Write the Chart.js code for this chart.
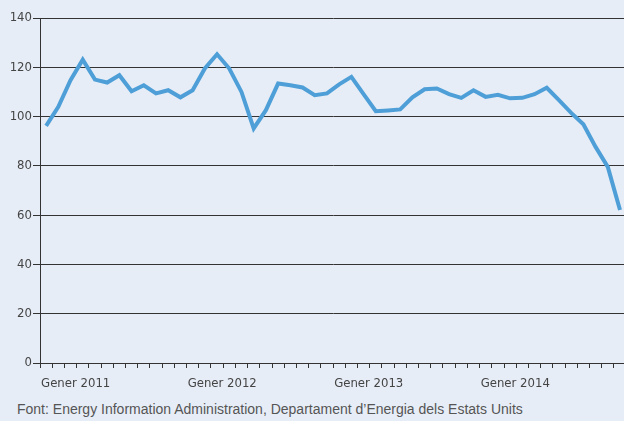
<!DOCTYPE html>
<html>
<head>
<meta charset="utf-8">
<script src="https://cdn.jsdelivr.net/npm/chart.js@4"></script>
<style>
  html, body { margin: 0; padding: 0; background: #e7edf7; overflow: hidden; }
  #wrap { position: absolute; left: 0; top: 0; width: 628px; height: 395px; }
  #source { position: absolute; left: 17px; top: 401px; font: 14px "Liberation Sans", Arial, sans-serif; color: #555; white-space: nowrap; }
</style>
</head>
<body>
<div id="wrap"><canvas id="chart"></canvas></div>
<div id="source">Font: Energy Information Administration, Departament d’Energia dels Estats Units</div>
<script>
// monthly values, gener 2011 .. desembre 2014
const years = [2011, 2012, 2013, 2014];
const months = [];
years.forEach(y => { for (let m = 1; m <= 12; m++) months.push(y + "-" + m); });

const values = [
    96.2, 104.0, 114.8, 123.1, 115.0, 113.8, 116.8, 110.3, 112.7, 109.4, 110.7, 107.8,
    110.7, 119.5, 125.3, 119.5, 110.0, 95.2, 102.6, 113.4, 112.7, 111.8, 108.7, 109.4,
    113.1, 116.1, 109.1, 102.2, 102.5, 102.9, 107.8, 111.1, 111.4, 109.1, 107.6, 110.7,
    108.0, 108.8, 107.4, 107.6, 109.1, 111.7, 106.7, 101.5, 96.9, 87.7, 79.6, 62.1
];
const yTicks = [0, 20, 40, 60, 80, 100, 120, 140];

const axisFont = { family: "'DejaVu Sans Condensed', sans-serif", size: 13 };
const gridColor = "#333";

new Chart(document.getElementById("chart"), {
    type: "line",
    data: {
        labels: months,
        datasets: [{
            data: values,
            borderColor: "#4e9fd7",
            borderWidth: 4,
            pointRadius: 0,
            tension: 0
        }]
    },
    options: {
        responsive: true,
        maintainAspectRatio: false,
        animation: false,
        layout: { padding: { top: 18, right: 0, left: 0, bottom: 0 } },
        plugins: { legend: { display: false }, tooltip: { enabled: false } },
        scales: {
            x: {
                type: "category",
                offset: true,
                grid: { offset: true, drawOnChartArea: false, tickLength: 5, color: gridColor },
                border: { color: gridColor, width: 1 },
                ticks: {
                    autoSkip: false, maxRotation: 0, align: "start", labelOffset: -5,
                    padding: 8, color: "#444", font: axisFont,
                    callback: (v, i) => i % 12 === 0 ? "Gener " + years[i / 12] : ""
                },
                afterFit: s => { s.height = 32; }
            },
            y: {
                min: 0, max: 140,
                afterBuildTicks: s => { s.ticks = yTicks.map(v => ({ value: v })); },
                grid: { color: gridColor, tickLength: 7 },
                border: { color: gridColor, width: 1 },
                ticks: { padding: 1, color: "#444", font: axisFont },
                afterFit: s => { s.width = 40; }
            }
        }
    }
});
</script>
</body>
</html>
